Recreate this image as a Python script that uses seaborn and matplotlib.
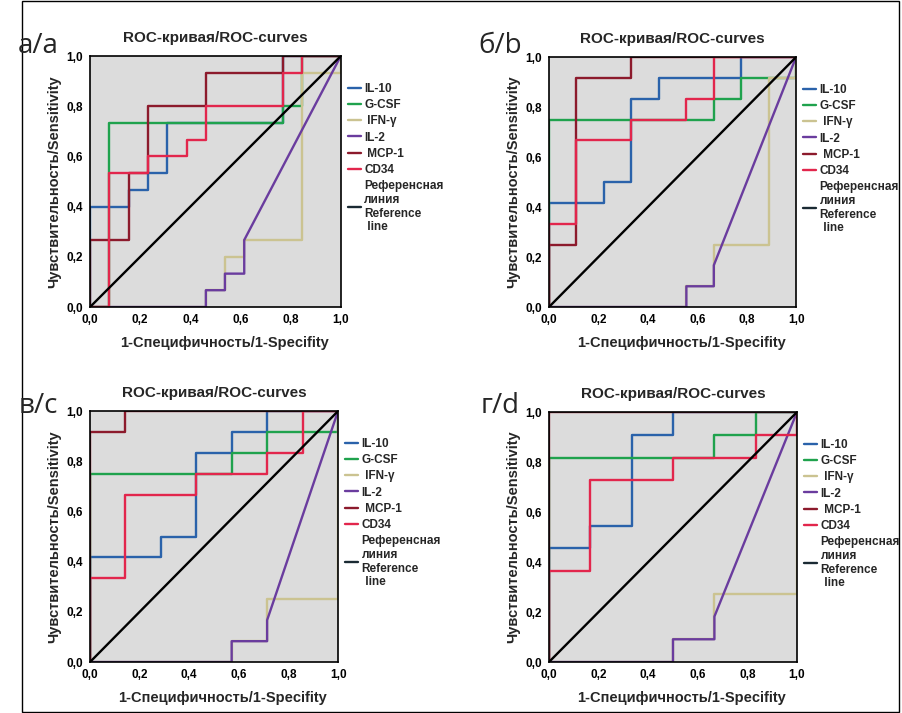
import pandas as pd
import matplotlib
matplotlib.use("Agg")
import matplotlib.pyplot as plt
from matplotlib.lines import Line2D
from matplotlib.patches import Rectangle
import seaborn as sns

# Markers and colours
markers = ['IL-10', 'G-CSF', 'IFN-γ', 'IL-2', 'MCP-1', 'CD34']
colors = ['#2a62aa', '#1fa24d', '#cbc391', '#6a3c9e', '#8c1a2c', '#e2264c']
legend_labels = ['IL-10', 'G-CSF', ' IFN-γ', 'IL-2', ' MCP-1', 'CD34',
                 'Референсная\nлиния\nReference\n line']
ticks = [0.0, 0.2, 0.4, 0.6, 0.8, 1.0]
tick_labels = ['0,0', '0,2', '0,4', '0,6', '0,8', '1,0']

# ROC points (1-specificity, sensitivity)
# panel a/a
a_il10 = [(0, 0), (0, 0.4), (0.154, 0.4), (0.154, 0.467), (0.231, 0.467), (0.231, 0.533),
          (0.308, 0.533), (0.308, 0.733), (0.769, 0.733), (0.769, 1), (1, 1)]
a_gcsf = [(0, 0), (0.077, 0), (0.077, 0.733), (0.769, 0.733), (0.769, 0.8), (0.846, 0.8),
          (0.846, 1), (1, 1)]
a_ifng = [(0, 0), (0.462, 0), (0.462, 0.067), (0.538, 0.067), (0.538, 0.2), (0.615, 0.2),
          (0.615, 0.267), (0.846, 0.267), (0.846, 0.933), (1, 0.933), (1, 1)]
a_il2 = [(0, 0), (0.462, 0), (0.462, 0.067), (0.538, 0.067), (0.538, 0.133), (0.615, 0.133),
         (0.615, 0.267), (1, 1)]
a_mcp1 = [(0, 0), (0, 0.267), (0.154, 0.267), (0.154, 0.533), (0.231, 0.533), (0.231, 0.8),
          (0.462, 0.8), (0.462, 0.933), (0.769, 0.933), (0.769, 1), (1, 1)]
a_cd34 = [(0, 0), (0.077, 0), (0.077, 0.533), (0.231, 0.533), (0.231, 0.6), (0.385, 0.6),
          (0.385, 0.667), (0.462, 0.667), (0.462, 0.8), (0.769, 0.8), (0.769, 0.933),
          (0.846, 0.933), (0.846, 1), (1, 1)]

# panel б/b
b_il10 = [(0, 0), (0, 0.417), (0.222, 0.417), (0.222, 0.5), (0.333, 0.5), (0.333, 0.833),
          (0.444, 0.833), (0.444, 0.917), (0.778, 0.917), (0.778, 1), (1, 1)]
b_gcsf = [(0, 0), (0, 0.75), (0.667, 0.75), (0.667, 0.833), (0.778, 0.833), (0.778, 0.917),
          (1, 0.917), (1, 1)]
b_ifng = [(0, 0), (0.556, 0), (0.556, 0.083), (0.667, 0.083), (0.667, 0.25), (0.889, 0.25),
          (0.889, 0.917), (1, 0.917), (1, 1)]
b_il2 = [(0, 0), (0.556, 0), (0.556, 0.083), (0.667, 0.083), (0.667, 0.167), (1, 1)]
b_mcp1 = [(0, 0), (0, 0.25), (0.111, 0.25), (0.111, 0.917), (0.333, 0.917), (0.333, 1), (1, 1)]
b_cd34 = [(0, 0), (0, 0.333), (0.111, 0.333), (0.111, 0.667), (0.333, 0.667), (0.333, 0.75),
          (0.556, 0.75), (0.556, 0.833), (0.667, 0.833), (0.667, 1), (1, 1)]

# panel в/c
c_il10 = [(0, 0), (0, 0.417), (0.286, 0.417), (0.286, 0.5), (0.429, 0.5), (0.429, 0.833),
          (0.571, 0.833), (0.571, 0.917), (0.714, 0.917), (0.714, 1), (1, 1)]
c_gcsf = [(0, 0), (0, 0.75), (0.571, 0.75), (0.571, 0.833), (0.714, 0.833), (0.714, 0.917),
          (1, 0.917), (1, 1)]
c_ifng = [(0, 0), (0.571, 0), (0.571, 0.083), (0.714, 0.083), (0.714, 0.25), (1, 0.25), (1, 1)]
c_il2 = [(0, 0), (0.571, 0), (0.571, 0.083), (0.714, 0.083), (0.714, 0.167), (1, 1)]
c_mcp1 = [(0, 0), (0, 0.917), (0.143, 0.917), (0.143, 1), (1, 1)]
c_cd34 = [(0, 0), (0, 0.333), (0.143, 0.333), (0.143, 0.667), (0.429, 0.667), (0.429, 0.75),
          (0.714, 0.75), (0.714, 0.833), (0.857, 0.833), (0.857, 1), (1, 1)]

# panel г/d
d_il10 = [(0, 0), (0, 0.455), (0.167, 0.455), (0.167, 0.545), (0.333, 0.545), (0.333, 0.909),
          (0.5, 0.909), (0.5, 1), (1, 1)]
d_gcsf = [(0, 0), (0, 0.818), (0.667, 0.818), (0.667, 0.909), (0.833, 0.909), (0.833, 1), (1, 1)]
d_ifng = [(0, 0), (0.5, 0), (0.5, 0.091), (0.667, 0.091), (0.667, 0.273), (1, 0.273), (1, 1)]
d_il2 = [(0, 0), (0.5, 0), (0.5, 0.091), (0.667, 0.091), (0.667, 0.182), (1, 1)]
d_mcp1 = [(0, 0), (0, 1), (1, 1)]
d_cd34 = [(0, 0), (0, 0.364), (0.167, 0.364), (0.167, 0.727), (0.5, 0.727), (0.5, 0.818),
          (0.833, 0.818), (0.833, 0.909), (1, 0.909), (1, 1)]

reference_line = [(0, 0), (1, 1)]

# letter, curves, axes box, letter position (figure fraction, baseline)
panels = [
    ('a/a', [a_il10, a_gcsf, a_ifng, a_il2, a_mcp1, a_cd34], [0.0998, 0.5694, 0.278, 0.352], (0.042, 0.925)),
    ('б/b', [b_il10, b_gcsf, b_ifng, b_il2, b_mcp1, b_cd34], [0.6086, 0.5694, 0.274, 0.3506], (0.554, 0.925)),
    ('в/с', [c_il10, c_gcsf, c_ifng, c_il2, c_mcp1, c_cd34], [0.0998, 0.0715, 0.275, 0.352], (0.042, 0.421)),
    ('г/d', [d_il10, d_gcsf, d_ifng, d_il2, d_mcp1, d_cd34], [0.6086, 0.0715, 0.275, 0.3506], (0.554, 0.421)),
]

sns.set_style("white")
plt.rcParams['font.family'] = ['Liberation Sans', 'DejaVu Sans']

fig = plt.figure(figsize=(9.02, 7.13), dpi=100)
fig.patch.set_facecolor('white')

for letter, curves, pos, lpos in panels:
    ax = fig.add_axes(pos)
    ax.set_facecolor('#dcdcdc')

    rows = []
    for name, pts in zip(markers, curves):
        for i, (x, y) in enumerate(pts):
            rows.append({'marker': name, 'step': i, 'fpr': x, 'tpr': y})
    df = pd.DataFrame(rows)

    sns.lineplot(data=df, x='fpr', y='tpr', hue='marker', hue_order=markers,
                 palette=colors, sort=False, estimator=None, units='marker',
                 linewidth=1.7, legend=False, ax=ax)
    ref = pd.DataFrame(reference_line, columns=['fpr', 'tpr'])
    sns.lineplot(data=ref, x='fpr', y='tpr', color='black', linewidth=1.7,
                 sort=False, estimator=None, legend=False, ax=ax)

    ax.set_xlim(0, 1)
    ax.set_ylim(0, 1)
    ax.set_xticks(ticks)
    ax.set_yticks(ticks)
    ax.set_xticklabels(tick_labels, fontweight='bold', fontsize=8.5)
    ax.set_yticklabels(tick_labels, fontweight='bold', fontsize=8.5)
    ax.tick_params(direction='out', length=4, width=1, pad=1, colors='black')
    for s in ax.spines.values():
        s.set_color('black')
        s.set_linewidth(1.2)

    ax.set_xlabel('1-Специфичность/1-Specifity', fontweight='bold', fontsize=10.5)
    ax.set_ylabel('Чувствительность/Sensitivity', fontweight='bold', fontsize=10.5)
    ax.xaxis.set_label_coords(0.535, -0.115)
    ax.yaxis.set_label_coords(-0.115, 0.5)
    ax.text(0.5, 1.072, 'ROC-кривая/ROC-curves', transform=ax.transAxes,
            ha='center', va='center', fontweight='bold', fontsize=11)
    fig.text(lpos[0], lpos[1], letter, ha='center', va='baseline',
             fontsize=20, family=['Open Sans', 'DejaVu Sans'])

    handles = [Line2D([], [], color=c, lw=1.7) for c in colors]
    handles.append(Line2D([], [], color='#1a2a33', lw=1.7))
    ax.legend(handles, legend_labels, loc='upper left', bbox_to_anchor=(1.0, 0.92),
              frameon=False, handlelength=1.1, handletextpad=0.3, labelspacing=0.35,
              borderaxespad=0.2, prop={'weight': 'bold', 'size': 8.5})

# outer frame
fig.patches.append(Rectangle((22 / 902, 0.002), 877 / 902, 0.996, transform=fig.transFigure,
                             fill=False, edgecolor='black', linewidth=1))

fig.savefig('out.png', dpi=100)
